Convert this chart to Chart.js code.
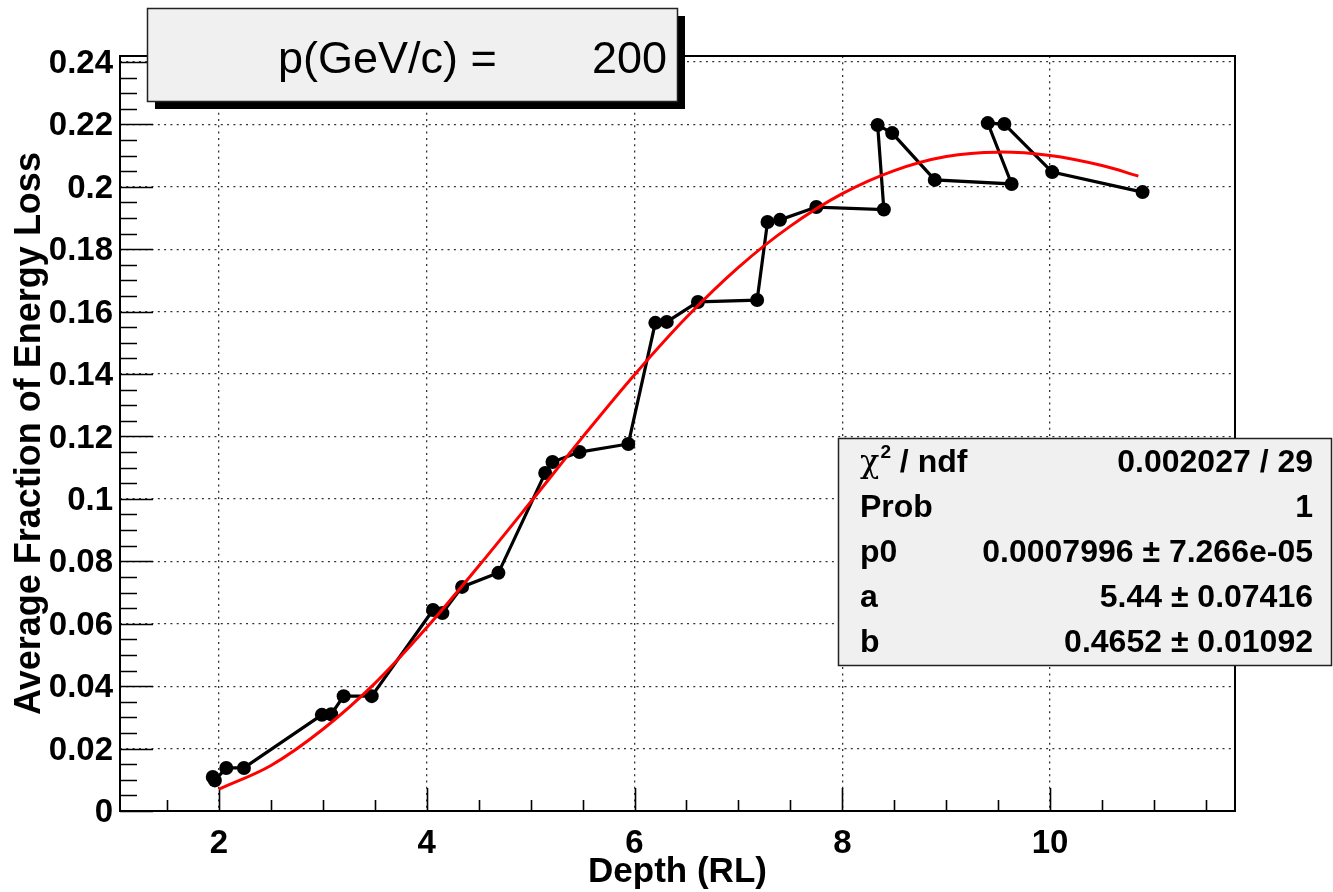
<!DOCTYPE html>
<html>
<head>
<meta charset="utf-8">
<script src="https://cdn.jsdelivr.net/npm/chart.js@4.4.1/dist/chart.umd.min.js"></script>
<style>
  html, body { margin: 0; padding: 0; background: #ffffff; }
  #wrap { width: 1333px; height: 892px; position: relative; }
</style>
</head>
<body>
<div id="wrap"><canvas id="c" width="1333" height="892"></canvas></div>
<script>
// ---- data ----
const depth = [1.94, 1.96, 2.07, 2.24, 2.99, 3.08, 3.20, 3.47, 4.06, 4.15, 4.34, 4.69,
               5.14, 5.21, 5.47, 5.94, 6.20, 6.31, 6.61, 7.18, 7.28, 7.40, 7.75, 8.40,
               8.34, 8.48, 8.89, 9.63, 9.40, 9.56, 10.02, 10.89];
const energyFrac = [0.0109, 0.0098, 0.0138, 0.0138, 0.0308, 0.0310, 0.0368, 0.0368, 0.0644, 0.0634, 0.0718, 0.0763,
                    0.1083, 0.1118, 0.1150, 0.1176, 0.1564, 0.1567, 0.1631, 0.1637, 0.1887, 0.1894, 0.1935, 0.1927,
                    0.2198, 0.2172, 0.2022, 0.2009, 0.2204, 0.2201, 0.2047, 0.1983];
const fitDepth = [2.0, 2.5, 3.0, 3.5, 4.0, 4.5, 5.0, 5.5, 6.0, 6.5, 7.0, 7.5, 8.0, 8.5, 9.0, 9.5, 10.0, 10.5, 10.85];
const fitFrac  = [0.0070, 0.0146, 0.0262, 0.0409, 0.0588, 0.0785, 0.0990, 0.1198, 0.1398, 0.1582, 0.1742, 0.1874,
                  0.1978, 0.2052, 0.2097, 0.2111, 0.2100, 0.2068, 0.2034];
const xTickValues = [2, 4, 6, 8, 10];
const xTickLabels = ['2', '4', '6', '8', '10'];
const yTickValues = [0, 0.02, 0.04, 0.06, 0.08, 0.10, 0.12, 0.14, 0.16, 0.18, 0.20, 0.22, 0.24];
const yTickLabels = ['0', '0.02', '0.04', '0.06', '0.08', '0.1', '0.12', '0.14', '0.16', '0.18', '0.2', '0.22', '0.24'];
const xTitle = 'Depth (RL)';
const yTitle = 'Average Fraction of Energy Loss';
const boxTitle = 'p(GeV/c) =';
const boxValue = '200';
const statsNames = ['χ', 'Prob', 'p0', 'a', 'b'];
const statsValues = ['0.002027 / 29', '1', '0.0007996 ± 7.266e-05', '5.44 ± 0.07416', '0.4652 ± 0.01092'];

// ---- helpers ----
const X_MIN = 1.047, X_MAX = 11.78, Y_MIN = 0, Y_MAX = 0.2419;
const near = (a, b) => Math.abs(a - b) < 1e-7;
const majorIndex = (vals, v) => vals.findIndex(t => near(t, v));
function stepTicks(min, max, step) {
  const out = [];
  for (let k = Math.ceil(min / step - 1e-9); k * step <= max + 1e-9; k++) out.push({ value: +(k * step).toFixed(6) });
  return out;
}
const FONT = '"Liberation Sans", Arial, Helvetica, sans-serif';

const rootDecor = {
  id: 'rootDecor',
  beforeDatasetsDraw(chart) {
    const { ctx, chartArea: a, scales: { x, y } } = chart;
    ctx.save();
    ctx.strokeStyle = '#000';
    ctx.lineWidth = 1.6;
    ctx.beginPath();
    x.ticks.forEach(t => {
      const px = Math.round(x.getPixelForValue(t.value)) + 0.5;
      const len = majorIndex(xTickValues, t.value) >= 0 ? 23 : 11;
      ctx.moveTo(px, a.bottom); ctx.lineTo(px, a.bottom - len);
    });
    y.ticks.forEach(t => {
      const py = Math.round(y.getPixelForValue(t.value)) + 0.5;
      const len = majorIndex(yTickValues, t.value) >= 0 ? 33 : 17;
      ctx.moveTo(a.left, py); ctx.lineTo(a.left + len, py);
    });
    ctx.stroke();
    ctx.lineWidth = 2;
    ctx.strokeRect(a.left, a.top, a.right - a.left, a.bottom - a.top);
    ctx.restore();
  },
  afterDraw(chart) {
    const ctx = chart.ctx;
    ctx.save();
    // title pave with shadow
    ctx.fillStyle = '#000';
    ctx.fillRect(155, 16, 530, 93);
    ctx.fillStyle = '#f0f0f0';
    ctx.fillRect(147, 8, 530, 93);
    ctx.strokeStyle = '#222';
    ctx.lineWidth = 1.5;
    ctx.strokeRect(147.5, 8.5, 530, 93);
    ctx.fillStyle = '#000';
    ctx.font = '45px ' + FONT;
    ctx.textBaseline = 'alphabetic';
    ctx.textAlign = 'left';
    ctx.fillText(boxTitle, 278, 73);
    ctx.textAlign = 'right';
    ctx.fillText(boxValue, 667, 73);

    // stats box
    ctx.fillStyle = '#f0f0f0';
    ctx.fillRect(838, 438, 493, 227);
    ctx.strokeStyle = '#222';
    ctx.lineWidth = 1.5;
    ctx.strokeRect(838.5, 438.5, 493, 227);
    ctx.fillStyle = '#000';
    const rows = [472, 517, 562, 607, 652];
    rows.forEach((by, i) => {
      ctx.textAlign = 'left';
      if (i === 0) {
        ctx.font = '32px "DejaVu Serif", serif';
        ctx.fillText(statsNames[0], 860, by);
        let w = ctx.measureText(statsNames[0]).width;
        ctx.font = 'bold 19px ' + FONT;
        ctx.fillText('2', 860 + w + 1, by - 14);
        const w2 = ctx.measureText('2').width;
        ctx.font = 'bold 32px ' + FONT;
        ctx.fillText(' / ndf', 860 + w + 1 + w2, by);
      } else {
        ctx.font = 'bold 32px ' + FONT;
        ctx.fillText(statsNames[i], 860, by);
      }
      ctx.font = 'bold 32px ' + FONT;
      ctx.textAlign = 'right';
      ctx.fillText(statsValues[i], 1313, by);
    });
    ctx.restore();
  }
};

const gridDash = [2, 4.3];

new Chart(document.getElementById('c'), {
  type: 'scatter',
  data: {
    datasets: [
      {
        label: 'fit',
        data: fitDepth.map((d, i) => ({ x: d, y: fitFrac[i] })),
        showLine: true,
        borderColor: '#ff0000',
        borderWidth: 3,
        pointRadius: 0,
        tension: 0.35,
        fill: false
      },
      {
        label: 'data',
        data: depth.map((d, i) => ({ x: d, y: energyFrac[i] })),
        showLine: true,
        borderColor: '#000000',
        backgroundColor: '#000000',
        borderWidth: 3.2,
        pointRadius: 7,
        pointBackgroundColor: '#000000',
        pointBorderWidth: 0,
        tension: 0,
        fill: false
      }
    ]
  },
  options: {
    responsive: false,
    animation: false,
    devicePixelRatio: 1,
    events: [],
    layout: { padding: { top: 56, right: 98, left: 0, bottom: 0 } },
    plugins: { legend: { display: false }, tooltip: { enabled: false }, title: { display: false } },
    scales: {
      x: {
        type: 'linear',
        min: X_MIN, max: X_MAX,
        afterBuildTicks: s => { s.ticks = stepTicks(X_MIN, X_MAX, 0.5); },
        afterFit: s => { s.height = 81; },
        border: { display: false, dash: gridDash },
        grid: {
          drawTicks: false,
          lineWidth: 1.3,
          color: c => (c.tick && majorIndex(xTickValues, c.tick.value) >= 0) ? '#333' : 'rgba(0,0,0,0)'
        },
        ticks: {
          autoSkip: false,
          maxRotation: 0,
          padding: 13,
          color: '#000',
          font: { family: FONT, size: 33, weight: 'bold' },
          callback: v => { const k = majorIndex(xTickValues, v); return k >= 0 ? xTickLabels[k] : ''; }
        },
        title: {
          display: true,
          text: xTitle,
          color: '#000',
          font: { family: FONT, size: 35, weight: 'bold', lineHeight: 1.15 },
          padding: { top: 0, bottom: 0 }
        }
      },
      y: {
        type: 'linear',
        min: Y_MIN, max: Y_MAX,
        afterBuildTicks: s => { s.ticks = stepTicks(Y_MIN, Y_MAX, 0.005); },
        afterFit: s => { s.width = 120; },
        border: { display: false, dash: gridDash },
        grid: {
          drawTicks: false,
          lineWidth: 1.3,
          color: c => (c.tick && majorIndex(yTickValues, c.tick.value) > 0) ? '#333' : 'rgba(0,0,0,0)'
        },
        ticks: {
          autoSkip: false,
          padding: 7,
          labelOffset: 2,
          color: '#000',
          font: { family: FONT, size: 33, weight: 'bold' },
          callback: v => { const k = majorIndex(yTickValues, v); return k >= 0 ? yTickLabels[k] : ''; }
        },
        title: {
          display: true,
          text: yTitle,
          color: '#000',
          font: { family: FONT, size: 36, weight: 'bold', lineHeight: 1.2 },
          padding: { top: 8, bottom: 0 }
        }
      }
    }
  },
  plugins: [rootDecor]
});
</script>
</body>
</html>
